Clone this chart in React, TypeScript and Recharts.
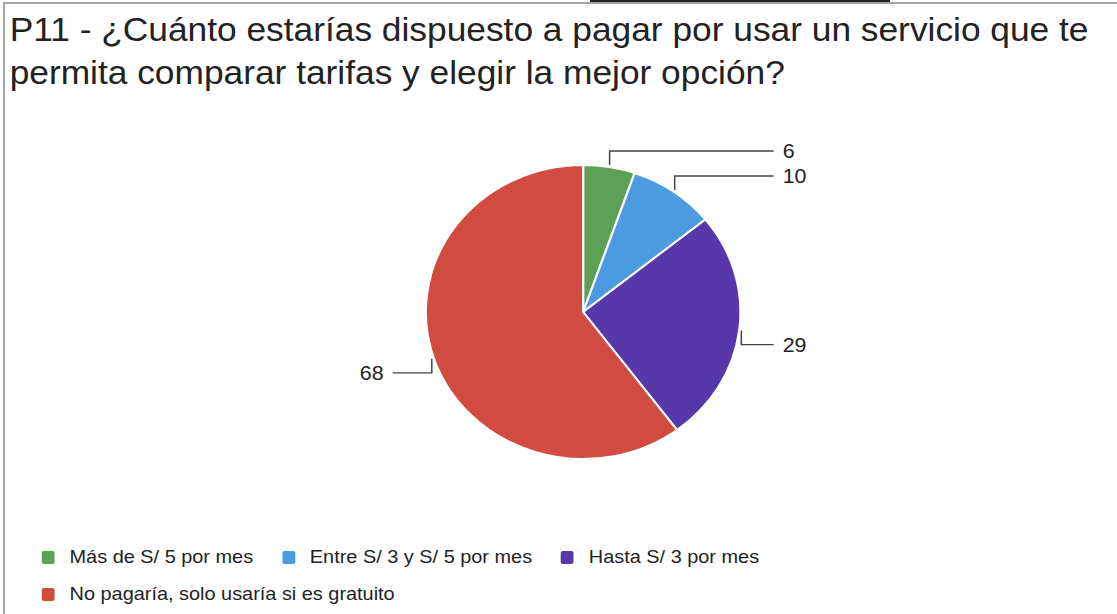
import { PieChart, Pie, Cell, Legend } from "recharts";

const categories = [
  "Más de S/ 5 por mes",
  "Entre S/ 3 y S/ 5 por mes",
  "Hasta S/ 3 por mes",
  "No pagaría, solo usaría si es gratuito",
];
const responses = [6, 10, 29, 68];
const colors = ["#5ca055", "#4a9be0", "#5737aa", "#d24b40"];

const titleLines = [
  "P11 - ¿Cuánto estarías dispuesto a pagar por usar un servicio que te",
  "permita comparar tarifas y elegir la mejor opción?",
];

const data = categories.map((name, i) => ({ name, value: responses[i], fill: colors[i] }));

const STRETCH = 1.07;
const FONT = "Arial, 'Liberation Sans', sans-serif";
const RAD = Math.PI / 180;

function renderLabel({ cx, cy, midAngle, outerRadius, value }: any) {
  const cos = Math.cos(-midAngle * RAD);
  const sin = Math.sin(-midAngle * RAD);
  const sx = cx + (outerRadius + 2) * cos;
  const sy = cy + (outerRadius + 2) * sin;
  const right = cos >= 0;
  const ey = sy + (sin > 0 ? 14 : -14);
  const ex = cx + (right ? 178 : -178);
  const tx = ex + (right ? 8.5 : -8.5);
  return (
    <g>
      <path d={`M${sx},${sy}L${sx},${ey}L${ex},${ey}`} stroke="#444" strokeWidth={1.4} fill="none" />
      <text
        x={tx}
        y={ey}
        textAnchor={right ? "start" : "end"}
        dominantBaseline="central"
        fill="#222"
        fontSize={20}
        fontFamily={FONT}
      >
        {value}
      </text>
    </g>
  );
}

function CustomLegend() {
  return (
    <div style={{ display: "flex", flexWrap: "wrap", rowGap: 17, columnGap: 27, width: 720, fontFamily: FONT }}>
      {data.map((d, i) => (
        <div key={i} style={{ display: "flex", alignItems: "center", gap: 14, height: 20 }}>
          <div style={{ width: 12, height: 13, borderRadius: 2, background: d.fill }} />
          <span style={{ fontSize: 18.6, color: "#222", whiteSpace: "nowrap" }}>{d.name}</span>
        </div>
      ))}
    </div>
  );
}

export default function App() {
  return (
    <div style={{ position: "absolute", left: 0, top: 0, width: 1117, height: 614, background: "#fff", overflow: "hidden" }}>
      <div style={{ position: "absolute", left: 590, top: 0, width: 300, height: 2, background: "#222" }} />
      <div style={{ position: "absolute", left: 3, top: 2, width: 1114, height: 612, borderTop: "2px solid #a6a6a6", borderLeft: "2px solid #a6a6a6" }} />
      <div style={{ position: "absolute", left: 0, top: 0, transform: `scaleX(${STRETCH})`, transformOrigin: "0 0" }}>
        <div style={{ position: "absolute", left: 9, top: 8, fontFamily: FONT, fontSize: 33, lineHeight: "43px", color: "#222", whiteSpace: "nowrap" }}>
          {titleLines.map((t, i) => (
            <div key={i}>{t}</div>
          ))}
        </div>
        <PieChart width={1044} height={614} margin={{ top: 0, right: 0, bottom: 0, left: 0 }}>
          <Pie
            data={data}
            dataKey="value"
            nameKey="name"
            cx={545}
            cy={312}
            outerRadius={147}
            startAngle={90}
            endAngle={-270}
            stroke="#fff"
            strokeWidth={2}
            label={renderLabel}
            labelLine={false}
            isAnimationActive={false}
          >
            {data.map((d, i) => (
              <Cell key={i} fill={d.fill} />
            ))}
          </Pie>
          <Legend
            content={<CustomLegend />}
            verticalAlign="bottom"
            align="left"
            wrapperStyle={{ left: 39, top: 547, bottom: "auto", width: 720 }}
          />
        </PieChart>
      </div>
    </div>
  );
}
